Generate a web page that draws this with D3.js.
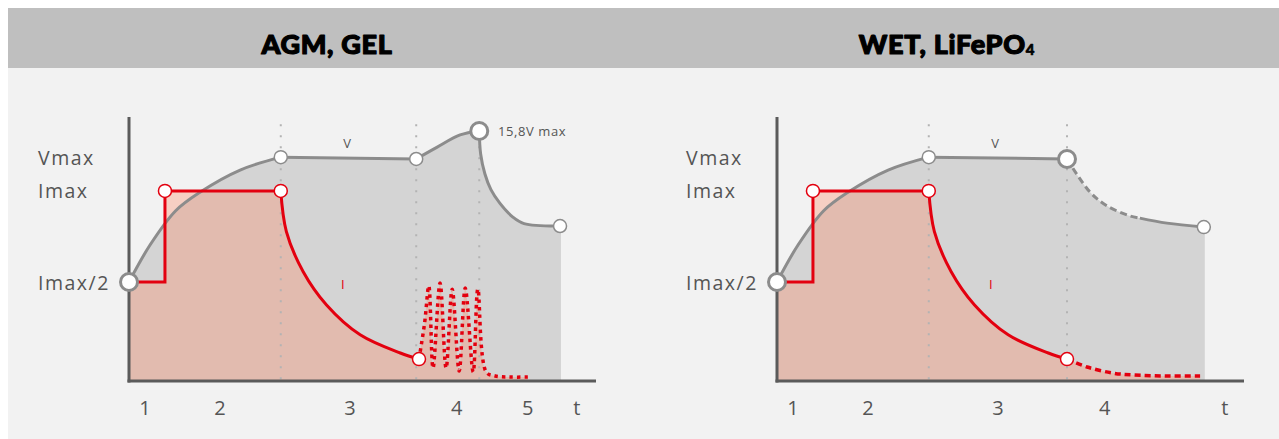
<!DOCTYPE html>
<html>
<head>
<meta charset="utf-8">
<script src="https://cdn.jsdelivr.net/npm/d3@7"></script>
<style>
  body { margin: 0; background: #fff; }
  text { font-family: "Open Sans", sans-serif; }
</style>
</head>
<body>
<svg id="chart" width="1279" height="439"></svg>
<script>
// charging profiles, x = time (0-100), y = level (0-100)
const titles = ["AGM, GEL", "WET, LiFePO"];
const titleSubs = ["", "4"];

const levelLabels = ["Vmax", "Imax", "Imax/2"];
const levelValues = [84.8, 72, 37.5];

const phaseLabelsLeft = ["1", "2", "3", "4", "5", "t"];
const phaseXLeft = [3.4, 19.5, 47.3, 70.2, 85.4, 95.9];
const phaseLabelsRight = ["1", "2", "3", "4", "t"];
const phaseXRight = [3.4, 19.5, 47.3, 70.2, 95.9];

// voltage, shared first part
const vRise = [[0, 37.5], [4.5, 51.5], [10, 64.5], [15.2, 71.5], [23.8, 79.9], [32.5, 84.8]];
// AGM/GEL voltage
const vFlatLeft = [[32.5, 84.8], [61.5, 84.1]];
const vBoostLeft = [[61.5, 84.1], [66, 88.6], [70.9, 93.2], [75, 94.7]];
const vDropLeft = [[75, 94.7], [75.3, 86], [76.2, 78.5], [77.5, 72.5], [79.4, 67.4], [82.2, 62.1], [84.6, 59.6], [92.3, 58.7]];
// WET/LiFePO4 voltage
const vFlatRight = [[32.5, 84.8], [62.1, 84.1]];
const vDecayDashRight = [[62.1, 84.1], [67, 71.6], [70.7, 66.3], [75.6, 62.5], [77.7, 61.7]];
const vDecaySolidRight = [[77.7, 61.7], [83.5, 59.8], [91.4, 58.3]];

// current
const iStep = [[0, 37.5], [7.7, 37.5], [7.7, 72], [32.5, 72]];
const iDecay = [[32.5, 72], [33.7, 56.6], [37.3, 41.4], [42.3, 28.8], [49.5, 17.5], [58.1, 10.6], [62.1, 8.3]];
const iPulsesLeft = [[62.1, 8.3], [63.3, 22], [64.2, 36], [65.1, 4.9], [66.6, 37.1], [67.9, 4.9], [69.2, 34.8],
  [70.7, 3.8], [72, 35.2], [73.7, 3.4], [74.7, 34.8], [76.5, 3.4], [78.4, 1.9], [81.6, 1.5], [85.4, 1.5]];
const iTailRight = [[62.1, 8.3], [66.4, 5.3], [71.9, 3], [76.2, 2.3], [83.5, 1.9], [90.6, 1.9]];

const panels = [
  {
    x0: 129, titleX: 327,
    phases: phaseLabelsLeft, phaseX: phaseXLeft,
    vSolid: [vRise, vFlatLeft, vBoostLeft, vDropLeft], vDashed: [],
    vAreaParts: [vRise, vFlatLeft, vBoostLeft, vDropLeft], vAreaEnd: 92.5,
    iTail: iPulsesLeft, iTailDash: "3.5,4",
    vDots: [[32.5, 84.8], [61.5, 84.1], [92.3, 58.7]],
    vBigDots: [[0, 37.5], [75, 94.7]],
    guides: [32.5, 61.5, 75],
    maxLabel: "15,8V max"
  },
  {
    x0: 777, titleX: 947,
    phases: phaseLabelsRight, phaseX: phaseXRight,
    vSolid: [vRise, vFlatRight, vDecaySolidRight], vDashed: [vDecayDashRight],
    vAreaParts: [vRise, vFlatRight, vDecayDashRight, vDecaySolidRight], vAreaEnd: 91.6,
    iTail: iTailRight, iTailDash: "6,4",
    vDots: [[32.5, 84.8], [91.4, 58.3]],
    vBigDots: [[0, 37.5], [62.1, 84.1]],
    guides: [32.5, 62.1],
    maxLabel: null
  }
];
const iDots = [[7.7, 72], [32.5, 72], [62.1, 8.3]];

const grayLine = "#8c8c8c", grayFill = "#d4d4d4", red = "#e3000f";
const axisCol = "#5b5b5b", textCol = "#555";

const svg = d3.select("#chart");

// background
svg.append("rect").attr("x", 8).attr("y", 68).attr("width", 1271).attr("height", 371).attr("fill", "#f2f2f2");
svg.append("rect").attr("x", 8).attr("y", 8).attr("width", 1271).attr("height", 60).attr("fill", "#bfbfbf");

const y = d3.scaleLinear().domain([0, 100]).range([381, 117]);
const smooth = d3.curveCatmullRom.alpha(0.5);

panels.forEach((p, k) => {
  const x = d3.scaleLinear().domain([0, 100]).range([p.x0, p.x0 + 467]);
  const line = (curve) => d3.line().x(d => x(d[0])).y(d => y(d[1])).curve(curve);
  const curvy = line(smooth), lin = line(d3.curveLinear);

  // joins several segments into one path, then closes down to the axis
  const closedPath = (parts, endX) => {
    let s = parts.map((q, i) => {
      const str = q.gen(q.pts);
      return i ? str.replace(/^M/, "L") : str;
    }).join("");
    const last = parts[parts.length - 1].pts.slice(-1)[0];
    return s + `L${x(endX)},${y(last[1])}L${x(endX)},${y(0)}L${x(0)},${y(0)}Z`;
  };

  // title
  const t = svg.append("text")
    .attr("x", p.titleX).attr("y", 54)
    .attr("text-anchor", "middle")
    .style("font-family", "Lato, sans-serif").style("font-weight", 900)
    .style("font-size", "27px").style("letter-spacing", "0.7px").attr("fill", "#000")
    .attr("stroke", "#000").attr("stroke-width", 1.2).attr("stroke-linejoin", "round")
    .text(titles[k]);
  if (titleSubs[k]) t.append("tspan").attr("dy", 1).style("font-size", "15px")
    .attr("stroke-width", 0.6).text(titleSubs[k]);

  const g = svg.append("g");

  // voltage area
  g.append("path")
    .attr("d", closedPath(p.vAreaParts.map(pts => ({pts, gen: curvy})), p.vAreaEnd))
    .attr("fill", grayFill);

  // current area
  const iLast = p.iTail[p.iTail.length - 1][0];
  g.append("path")
    .attr("d", closedPath([{pts: iStep, gen: lin}, {pts: iDecay, gen: curvy}, {pts: p.iTail, gen: curvy}], iLast))
    .attr("fill", "#ff8a65").attr("fill-opacity", 0.33);

  // phase guides
  g.selectAll(".guide").data(p.guides).join("line")
    .attr("x1", d => x(d)).attr("x2", d => x(d))
    .attr("y1", y(97.3)).attr("y2", y(0))
    .attr("stroke", "#b3b3b3").attr("stroke-width", 2)
    .attr("stroke-dasharray", "2,9");

  // axes
  g.append("line").attr("x1", x(0)).attr("x2", x(0)).attr("y1", y(0) + 1.5).attr("y2", y(100))
    .attr("stroke", axisCol).attr("stroke-width", 3);
  g.append("line").attr("x1", x(0) - 1.5).attr("x2", x(100)).attr("y1", y(0)).attr("y2", y(0))
    .attr("stroke", axisCol).attr("stroke-width", 3);

  // voltage lines
  p.vSolid.forEach(pts => g.append("path").attr("d", curvy(pts))
    .attr("fill", "none").attr("stroke", grayLine).attr("stroke-width", 3));
  p.vDashed.forEach(pts => g.append("path").attr("d", curvy(pts))
    .attr("fill", "none").attr("stroke", grayLine).attr("stroke-width", 3)
    .attr("stroke-dasharray", "7,4"));

  // current lines
  g.append("path").attr("d", lin(iStep) + curvy(iDecay).replace(/^M/, "L"))
    .attr("fill", "none").attr("stroke", red).attr("stroke-width", 3);
  g.append("path").attr("d", curvy(p.iTail))
    .attr("fill", "none").attr("stroke", red).attr("stroke-width", 3.5)
    .attr("stroke-dasharray", p.iTailDash);

  // markers
  g.selectAll(".vdot").data(p.vDots).join("circle")
    .attr("cx", d => x(d[0])).attr("cy", d => y(d[1])).attr("r", 6.5)
    .attr("fill", "#fff").attr("stroke", grayLine).attr("stroke-width", 1.5);
  g.selectAll(".idot").data(iDots).join("circle")
    .attr("cx", d => x(d[0])).attr("cy", d => y(d[1])).attr("r", 6.5)
    .attr("fill", "#fff").attr("stroke", red).attr("stroke-width", 1.5);
  g.selectAll(".bigdot").data(p.vBigDots).join("circle")
    .attr("cx", d => x(d[0])).attr("cy", d => y(d[1])).attr("r", 8.5)
    .attr("fill", "#fff").attr("stroke", grayLine).attr("stroke-width", 3);

  // level labels
  g.selectAll(".lvl").data(levelLabels).join("text")
    .attr("x", p.x0 - 91).attr("y", (d, i) => y(levelValues[i]))
    .attr("dominant-baseline", "central")
    .attr("fill", textCol).style("font-size", "19.5px").style("letter-spacing", "1.5px")
    .text(d => d);

  // phase labels
  g.selectAll(".ph").data(p.phases).join("text")
    .attr("x", (d, i) => x(p.phaseX[i])).attr("y", 407)
    .attr("text-anchor", "middle").attr("dominant-baseline", "central")
    .attr("fill", textCol).style("font-size", "20px")
    .text(d => d);

  // series labels
  g.append("text").attr("x", x(46.7)).attr("y", y(90.2))
    .attr("text-anchor", "middle").attr("dominant-baseline", "central")
    .attr("fill", textCol).style("font-size", "13px").text("V");
  g.append("text").attr("x", x(45.8)).attr("y", y(36.7))
    .attr("text-anchor", "middle").attr("dominant-baseline", "central")
    .attr("fill", red).style("font-size", "13px").text("I");
  if (p.maxLabel) {
    g.append("text").attr("x", x(79)).attr("y", y(94.7))
      .attr("dominant-baseline", "central")
      .attr("fill", textCol).style("font-size", "13px").style("letter-spacing", "0.6px")
      .text(p.maxLabel);
  }
});
</script>
</body>
</html>
